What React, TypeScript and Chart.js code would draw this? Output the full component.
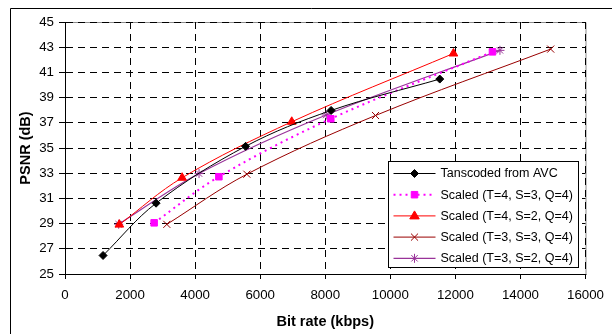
import React, { useEffect, useRef } from 'react';
import { Chart, registerables } from 'chart.js';

Chart.register(...registerables);

// ---- data ----
const xMin = 0;
const xMax = 16000;
const xStep = 2000;
const yMin = 25;
const yMax = 45;
const yStep = 2;

const seriesLabels = [
  'Tanscoded from AVC',
  'Scaled (T=4, S=3, Q=4)',
  'Scaled (T=4, S=2, Q=4)',
  'Scaled (T=3, S=3, Q=4)',
  'Scaled (T=3, S=2, Q=4)',
];

const transcodedX = [1170, 2800, 5550, 8180, 11520];
const transcodedY = [26.47, 30.62, 35.13, 37.98, 40.47];
const t4s3X = [2740, 4730, 8170, 13140];
const t4s3Y = [29.06, 32.72, 37.32, 42.63];
const t4s2X = [1670, 3600, 6970, 11940];
const t4s2Y = [28.92, 32.64, 37.08, 42.5];
const t3s3X = [3130, 5590, 9545, 14930];
const t3s3Y = [28.94, 32.92, 37.58, 42.85];
const t3s2X = [1650, 4120, 8030, 13370];
const t3s2Y = [28.95, 32.97, 37.62, 42.75];

const FONT = "'Liberation Sans', Arial, sans-serif";

const toPoints = (xs: number[], ys: number[]) => xs.map((x, i) => ({ x, y: ys[i] }));

function drawMarker(ctx: CanvasRenderingContext2D, style: string, x: number, y: number, r: number, color: string) {
  ctx.save();
  ctx.fillStyle = color;
  ctx.strokeStyle = color;
  ctx.lineWidth = 1;
  ctx.setLineDash([]);
  ctx.beginPath();
  if (style === 'rectRot') {
    ctx.moveTo(x, y - r);
    ctx.lineTo(x + r, y);
    ctx.lineTo(x, y + r);
    ctx.lineTo(x - r, y);
    ctx.closePath();
    ctx.fill();
    ctx.stroke();
  } else if (style === 'rect') {
    const s = r * Math.SQRT1_2;
    ctx.rect(x - s, y - s, 2 * s, 2 * s);
    ctx.fill();
    ctx.stroke();
  } else if (style === 'triangle') {
    ctx.moveTo(x, y - r);
    ctx.lineTo(x + r * 0.95, y + r * 0.6);
    ctx.lineTo(x - r * 0.95, y + r * 0.6);
    ctx.closePath();
    ctx.fill();
    ctx.stroke();
  } else if (style === 'crossRot') {
    const d = r * Math.SQRT1_2;
    ctx.moveTo(x - d, y - d);
    ctx.lineTo(x + d, y + d);
    ctx.moveTo(x + d, y - d);
    ctx.lineTo(x - d, y + d);
    ctx.stroke();
  } else if (style === 'star') {
    const d = r * Math.SQRT1_2;
    ctx.moveTo(x - d, y - d);
    ctx.lineTo(x + d, y + d);
    ctx.moveTo(x + d, y - d);
    ctx.lineTo(x - d, y + d);
    ctx.moveTo(x, y - r);
    ctx.lineTo(x, y + r);
    ctx.stroke();
  }
  ctx.restore();
}

const decorPlugin = {
  id: 'decor',
  beforeDraw(chart: any) {
    const { ctx, chartArea: a } = chart;
    ctx.save();
    ctx.fillStyle = '#ffffff';
    ctx.fillRect(0, 0, chart.width, chart.height);
    ctx.strokeStyle = '#000000';
    ctx.lineWidth = 1;
    ctx.beginPath();
    ctx.moveTo(10.5, chart.height + 5);
    ctx.lineTo(10.5, 8.5);
    ctx.lineTo(chart.width + 5, 8.5);
    ctx.stroke();
    ctx.strokeStyle = '#8c8c8c';
    ctx.beginPath();
    ctx.moveTo(a.left, a.top + 0.5);
    ctx.lineTo(a.right + 0.5, a.top + 0.5);
    ctx.lineTo(a.right + 0.5, a.bottom);
    ctx.stroke();
    ctx.restore();
  },
  afterDatasetsDraw(chart: any) {
    // solid axis lines on left and bottom
    const { ctx, chartArea: a } = chart;
    ctx.save();
    ctx.strokeStyle = '#000000';
    ctx.lineWidth = 1;
    ctx.setLineDash([]);
    ctx.beginPath();
    ctx.moveTo(a.left + 0.5, a.top);
    ctx.lineTo(a.left + 0.5, a.bottom + 0.5);
    ctx.lineTo(a.right + 1, a.bottom + 0.5);
    ctx.stroke();
    ctx.restore();
  },
  afterDraw(chart: any) {
    const { ctx, chartArea: a } = chart;
    const w = 190;
    const h = 106;
    const left = a.right - 8 - w;
    const top = a.bottom - 7 - h;
    ctx.save();
    ctx.fillStyle = '#ffffff';
    ctx.fillRect(left, top, w, h);
    ctx.strokeStyle = '#000000';
    ctx.lineWidth = 1;
    ctx.setLineDash([]);
    ctx.strokeRect(Math.round(left) + 0.5, Math.round(top) + 0.5, w, h);
    chart.data.datasets.forEach((ds: any, i: number) => {
      const cy = top + 12.5 + i * 21.2;
      const x0 = left + 6;
      const x1 = left + 48;
      ctx.save();
      ctx.strokeStyle = ds.borderColor;
      ctx.lineWidth = ds.borderWidth;
      ctx.setLineDash(ds.borderDash || []);
      ctx.beginPath();
      ctx.moveTo(x0, cy);
      ctx.lineTo(x1, cy);
      ctx.stroke();
      ctx.restore();
      drawMarker(ctx, ds.pointStyle, (x0 + x1) / 2, cy, ds.pointRadius, ds.pointBorderColor);
      ctx.fillStyle = '#000000';
      ctx.font = `12.5px ${FONT}`;
      ctx.textBaseline = 'middle';
      ctx.textAlign = 'left';
      ctx.fillText(ds.label, left + 53, cy + 0.5);
    });
    ctx.restore();
  },
};

export default function App() {
  const canvasRef = useRef<HTMLCanvasElement | null>(null);

  useEffect(() => {
    if (!canvasRef.current) return;
    const mk = (i: number, xs: number[], ys: number[], color: string, style: string, r: number, dash: number[], bw: number) => ({
      label: seriesLabels[i],
      data: toPoints(xs, ys),
      borderColor: color,
      backgroundColor: color,
      pointBackgroundColor: color,
      pointBorderColor: color,
      pointStyle: style,
      pointRadius: r,
      pointBorderWidth: 1,
      borderWidth: bw,
      borderDash: dash,
      tension: 0.35,
      fill: false,
    });
    const chart = new Chart(canvasRef.current, {
      type: 'line',
      data: {
        datasets: [
          mk(0, transcodedX, transcodedY, '#000000', 'rectRot', 4, [], 1),
          mk(1, t4s3X, t4s3Y, '#ff00ff', 'rect', 4.6, [2, 4], 2),
          mk(2, t4s2X, t4s2Y, '#ff0000', 'triangle', 5, [], 1),
          mk(3, t3s3X, t3s3Y, '#990000', 'crossRot', 5, [], 1),
          mk(4, t3s2X, t3s2Y, '#993399', 'star', 4.5, [], 1.2),
        ] as any,
      },
      options: {
        animation: false,
        responsive: false,
        devicePixelRatio: 1,
        layout: { padding: { top: 22, right: 19, left: 0, bottom: 0 } },
        plugins: { legend: { display: false }, tooltip: { enabled: false } },
        scales: {
          x: {
            type: 'linear',
            min: xMin,
            max: xMax,
            ticks: {
              stepSize: xStep,
              color: '#000',
              font: { family: FONT, size: 13.3 },
              padding: 8,
              callback: (v: any) => String(v),
            },
            grid: {
              color: '#000',
              tickLength: 5,
              tickBorderDash: [],
              tickColor: '#000',
            } as any,
            border: { color: '#000', width: 1, dash: [7, 5] } as any,
            title: {
              display: true,
              text: 'Bit rate (kbps)',
              color: '#000',
              font: { family: FONT, size: 14.5, weight: 'bold' },
              padding: { top: 0, bottom: 3 },
            },
            afterFit: (s: any) => { s.height = 60; },
          },
          y: {
            type: 'linear',
            min: yMin,
            max: yMax,
            ticks: {
              stepSize: yStep,
              color: '#000',
              font: { family: FONT, size: 13.3 },
              padding: 5,
              callback: (v: any) => String(v),
            },
            grid: {
              color: '#000',
              tickLength: 6,
              tickBorderDash: [],
              tickColor: '#000',
            } as any,
            border: { color: '#000', width: 1, dash: [7, 5] } as any,
            title: {
              display: true,
              text: 'PSNR (dB)',
              color: '#000',
              font: { family: FONT, size: 14.5, weight: 'bold' },
              padding: { top: 17, bottom: 0 },
            },
            afterFit: (s: any) => { s.width = 65; },
          },
        },
      },
      plugins: [decorPlugin],
    });
    return () => chart.destroy();
  }, []);

  return (
    <div style={{ position: 'absolute', left: 0, top: 0, width: 612, height: 334, background: '#fff' }}>
      <canvas ref={canvasRef} width={612} height={334} style={{ display: 'block' }} />
    </div>
  );
}
